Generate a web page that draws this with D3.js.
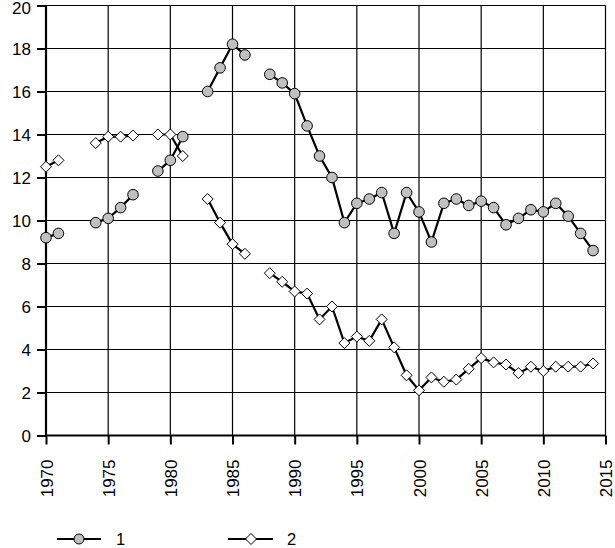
<!DOCTYPE html>
<html>
<head>
<meta charset="utf-8">
<script src="https://cdn.jsdelivr.net/npm/d3@7"></script>
<style>
  html, body { margin: 0; padding: 0; background: #fff; }
  svg { display: block; }
  text { font-family: "Liberation Sans", Arial, sans-serif; fill: #000; }
</style>
</head>
<body>
<svg id="chart" width="615" height="548"></svg>
<script>
const years = d3.range(1970, 2015);
const series1 = [9.2, 9.4, null, null, 9.9, 10.1, 10.6, 11.2, null, 12.3,
  12.8, 13.9, null, 16.0, 17.1, 18.2, 17.7, null, 16.8, 16.4,
  15.9, 14.4, 13.0, 12.0, 9.9, 10.8, 11.0, 11.3, 9.4, 11.3,
  10.4, 9.0, 10.8, 11.0, 10.7, 10.9, 10.6, 9.8, 10.1, 10.5,
  10.4, 10.8, 10.2, 9.4, 8.6];
const series2 = [12.5, 12.8, null, null, 13.6, 13.9, 13.9, 13.95, null, 14.0,
  14.0, 13.0, null, 11.0, 9.9, 8.9, 8.45, null, 7.55, 7.15,
  6.7, 6.6, 5.4, 6.0, 4.3, 4.6, 4.4, 5.4, 4.1, 2.8,
  2.1, 2.7, 2.5, 2.6, 3.1, 3.6, 3.4, 3.3, 2.9, 3.2,
  3.0, 3.2, 3.2, 3.2, 3.35];
const seriesNames = ["1", "2"];
const xTicks = [1970, 1975, 1980, 1985, 1990, 1995, 2000, 2005, 2010, 2015];
const yTicks = [0, 2, 4, 6, 8, 10, 12, 14, 16, 18, 20];

const svg = d3.select("#chart");
const L = 46, R = 605.5, T = 5.5, B = 435.5;
const x = d3.scaleLinear().domain([1970, 2015]).range([L, R]);
const y = d3.scaleLinear().domain([0, 20]).range([B, T]);

// gridlines
const grid = svg.append("g");
grid.selectAll(".gx").data(xTicks).join("line")
  .attr("x1", d => x(d)).attr("x2", d => x(d))
  .attr("y1", T).attr("y2", B)
  .attr("stroke", "#000").attr("stroke-width", 1.2);
grid.selectAll(".gy").data(yTicks).join("line")
  .attr("x1", L).attr("x2", R)
  .attr("y1", d => y(d)).attr("y2", d => y(d))
  .attr("stroke", "#000").attr("stroke-width", 1.2);

// axes
const xAxis = d3.axisBottom(x).tickValues(xTicks).tickSize(9).tickFormat(d3.format("d"));
const gx = svg.append("g").attr("transform", `translate(0,${B})`).call(xAxis);
gx.select(".domain").attr("stroke", "#000").attr("stroke-width", 2.2).attr("d", `M${L},0H${R}`);
gx.selectAll(".tick line").attr("stroke", "#000").attr("stroke-width", 2);
gx.selectAll(".tick text")
  .attr("font-size", 17)
  .attr("font-family", "Liberation Sans, Arial, sans-serif")
  .attr("transform", "rotate(-90)")
  .attr("text-anchor", "end")
  .attr("x", -24)
  .attr("y", 0)
  .attr("dy", "0.36em");

const yAxis = d3.axisLeft(y).tickValues(yTicks).tickSize(9);
const gy = svg.append("g").attr("transform", `translate(${L},0)`).call(yAxis);
gy.select(".domain").attr("stroke", "#000").attr("stroke-width", 2.2).attr("d", `M0,${B}V${T}`);
gy.selectAll(".tick line").attr("stroke", "#000").attr("stroke-width", 2);
gy.selectAll(".tick text")
  .attr("font-size", 17)
  .attr("font-family", "Liberation Sans, Arial, sans-serif")
  .attr("x", -15)
  .attr("dy", d => d === 20 ? "0.45em" : "0.36em");

const line = d3.line()
  .defined(d => d.v != null)
  .x(d => x(d.year)).y(d => y(d.v));

const d1 = years.map((yr, i) => ({ year: yr, v: series1[i] }));
const d2 = years.map((yr, i) => ({ year: yr, v: series2[i] }));

const diamond = "M0,-5.5L5.5,0L0,5.5L-5.5,0Z";

// series 2 (diamonds)
svg.append("path").datum(d2).attr("d", line)
  .attr("fill", "none").attr("stroke", "#000").attr("stroke-width", 2.2);
svg.append("g").selectAll("path").data(d2.filter(d => d.v != null)).join("path")
  .attr("d", diamond)
  .attr("transform", d => `translate(${x(d.year)},${y(d.v)})`)
  .attr("fill", "#fff").attr("stroke", "#000").attr("stroke-width", 1);

// series 1 (circles)
svg.append("path").datum(d1).attr("d", line)
  .attr("fill", "none").attr("stroke", "#000").attr("stroke-width", 2.2);
svg.append("g").selectAll("circle").data(d1.filter(d => d.v != null)).join("circle")
  .attr("cx", d => x(d.year)).attr("cy", d => y(d.v)).attr("r", 5.3)
  .attr("fill", "#c0c0c0").attr("stroke", "#000").attr("stroke-width", 1);

// legend
const legend = svg.append("g");
const lg = [
  { name: seriesNames[0], x0: 57, x1: 101, m: 79, t: 116, type: "circle" },
  { name: seriesNames[1], x0: 228, x1: 273, m: 251, t: 287, type: "diamond" }
];
const ly = 539;
lg.forEach(item => {
  legend.append("line").attr("x1", item.x0).attr("x2", item.x1)
    .attr("y1", ly).attr("y2", ly).attr("stroke", "#000").attr("stroke-width", 2.2);
  if (item.type === "circle") {
    legend.append("circle").attr("cx", item.m).attr("cy", ly).attr("r", 5)
      .attr("fill", "#c0c0c0").attr("stroke", "#000").attr("stroke-width", 1);
  } else {
    legend.append("path").attr("d", diamond)
      .attr("transform", `translate(${item.m},${ly})`)
      .attr("fill", "#fff").attr("stroke", "#000").attr("stroke-width", 1);
  }
  legend.append("text").attr("x", item.t).attr("y", ly + 5.5)
    .attr("font-size", 16.5).text(item.name);
});
</script>
</body>
</html>
